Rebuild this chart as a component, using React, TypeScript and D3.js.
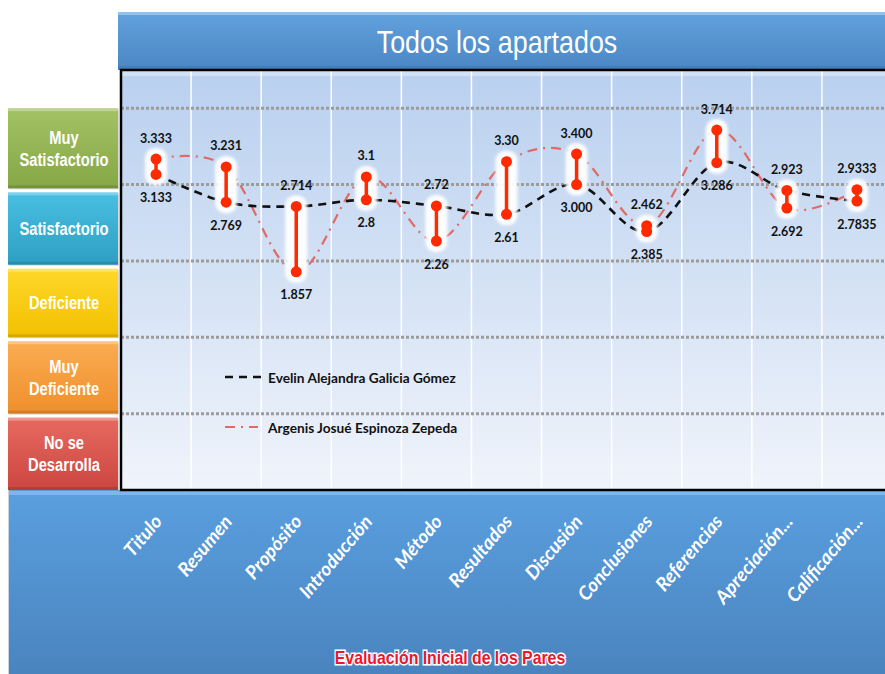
import * as d3 from "d3";

const categories = [
  "Titulo",
  "Resumen",
  "Propósito",
  "Introducción",
  "Método",
  "Resultados",
  "Discusión",
  "Conclusiones",
  "Referencias",
  "Apreciación...",
  "Calificación...",
];
const evelin = [3.133, 2.769, 2.714, 2.8, 2.72, 2.61, 3.0, 2.385, 3.286, 2.923, 2.7835];
const evelinLabels = ["3.133", "2.769", "2.714", "2.8", "2.72", "2.61", "3.000", "2.385", "3.286", "2.923", "2.7835"];
const argenis = [3.333, 3.231, 1.857, 3.1, 2.26, 3.3, 3.4, 2.462, 3.714, 2.692, 2.9333];
const argenisLabels = ["3.333", "3.231", "1.857", "3.1", "2.26", "3.30", "3.400", "2.462", "3.714", "2.692", "2.9333"];
const gridValues = [0, 1, 2, 3, 4];
const levels = [
  ["Muy", "Satisfactorio"],
  ["Satisfactorio"],
  ["Deficiente"],
  ["Muy", "Deficiente"],
  ["No se", "Desarrolla"],
];
const seriesNames = ["Evelin Alejandra Galicia Gómez", "Argenis Josué Espinoza Zepeda"];

// layout
const W = 885;
const H = 674;
const plot = { left: 121, right: 892, top: 70, bottom: 490 };
const levelEdges = [4, 2.95, 1.95, 1.0, 0.0, -1.0];
const levelColors = [
  ["#a3c264", "#86a746"],
  ["#48bfe2", "#2e9fc2"],
  ["#ffd82a", "#f2c000"],
  ["#fbac52", "#ef8f2c"],
  ["#e66a60", "#cc4640"],
];

const x = d3.scaleBand().domain(categories).range([plot.left, plot.right]);
const y = d3.scaleLinear().domain([-1, 4.5]).range([plot.bottom, plot.top]);
const cx = (c: string) => x(c)! + x.bandwidth() / 2;

const line = d3
  .line<number>()
  .x((_, i) => cx(categories[i]))
  .y((d) => y(d))
  .curve(d3.curveCardinal.tension(0));

const arial = "'Liberation Sans', Arial, sans-serif";
const calibri = "Lato, 'Open Sans', sans-serif";

// narrow text: Liberation Sans squeezed horizontally
const Narrow = ({ x: tx, y: ty, sx, children, ...rest }: any) => (
  <g transform={`translate(${tx},${ty}) scale(${sx},1)`}>
    <text x={0} y={0} fontFamily={arial} textAnchor="middle" dominantBaseline="central" {...rest}>
      {children}
    </text>
  </g>
);

export default function App() {
  return (
    <svg
      width={W}
      height={H}
      style={{ position: "absolute", left: 0, top: 0, background: "white" }}
    >
      <defs>
        <linearGradient id="plotGrad" x1="0" y1="0" x2="0" y2="1">
          <stop offset="0" stopColor="#b9d0ef" />
          <stop offset="1" stopColor="#f0f4fb" />
        </linearGradient>
        <linearGradient id="titleGrad" x1="0" y1="0" x2="0" y2="1">
          <stop offset="0" stopColor="#62a2de" />
          <stop offset="1" stopColor="#4a86c3" />
        </linearGradient>
        <linearGradient id="bottomGrad" x1="0" y1="0" x2="0" y2="1">
          <stop offset="0" stopColor="#5a9fdf" />
          <stop offset="1" stopColor="#4a84bf" />
        </linearGradient>
        {levelColors.map((c, i) => (
          <linearGradient key={i} id={`lvl${i}`} x1="0" y1="0" x2="0" y2="1">
            <stop offset="0" stopColor={c[0]} />
            <stop offset="1" stopColor={c[1]} />
          </linearGradient>
        ))}
        <filter id="halo" x="-50%" y="-50%" width="200%" height="200%">
          <feGaussianBlur stdDeviation="1.5" />
        </filter>
      </defs>

      {/* title band */}
      <rect x={118} y={12} width={780} height={58} fill="url(#titleGrad)" />
      <rect x={118} y={12} width={780} height={3} fill="#8fc2ef" />
      <rect x={118} y={66} width={780} height={4} fill="#3f78b2" opacity={0.6} />
      <Narrow x={497} y={42} sx={0.84} fill="white" fontSize={32}>
        Todos los apartados
      </Narrow>

      {/* bottom band */}
      <rect x={8} y={490} width={880} height={184} fill="url(#bottomGrad)" />
      <rect x={8} y={490} width={880} height={5} fill="#7ab8ee" />
      <line x1={8.5} x2={8.5} y1={490} y2={674} stroke="#c8d4e0" />

      {/* level boxes */}
      {levels.map((lines, i) => {
        const top = y(levelEdges[i]) + (i === 0 ? 0 : 4);
        const bottom = y(levelEdges[i + 1]);
        const mid = (top + bottom) / 2;
        return (
          <g key={i}>
            <rect x={9} y={top + 1} width={110} height={bottom - top} fill="#000" opacity={0.15} />
            <rect x={8} y={top} width={110} height={bottom - top} fill={`url(#lvl${i})`} />
            <rect x={8} y={top} width={110} height={3} fill="white" opacity={0.3} />
            <rect x={8} y={bottom - 3} width={110} height={3} fill="black" opacity={0.12} />
            {lines.map((t, j) => (
              <Narrow
                key={j}
                x={64}
                y={mid + (j - (lines.length - 1) / 2) * 22}
                sx={0.84}
                fill="white"
                fontWeight="bold"
                fontSize={17.5}
              >
                {t}
              </Narrow>
            ))}
          </g>
        );
      })}

      {/* plot area */}
      <rect
        x={plot.left}
        y={plot.top}
        width={plot.right - plot.left}
        height={plot.bottom - plot.top}
        fill="url(#plotGrad)"
      />
      <rect x={plot.left} y={plot.top + 1} width={plot.right - plot.left} height={5} fill="white" opacity={0.35} />
      {categories.slice(1).map((c) => (
        <line
          key={c}
          x1={x(c)}
          x2={x(c)}
          y1={plot.top}
          y2={plot.bottom}
          stroke="white"
          strokeWidth={1.5}
        />
      ))}
      {gridValues.map((v) => (
        <line
          key={v}
          x1={plot.left}
          x2={plot.right}
          y1={y(v)}
          y2={y(v)}
          stroke="#9c9c9c"
          strokeWidth={3}
          strokeDasharray="3,2"
        />
      ))}
      <rect
        x={plot.left}
        y={plot.top}
        width={plot.right - plot.left}
        height={plot.bottom - plot.top}
        fill="none"
        stroke="black"
        strokeWidth={2.5}
      />

      {/* series lines */}
      <path
        d={line(argenis)!}
        fill="none"
        stroke="#e06a66"
        strokeWidth={2.2}
        strokeDasharray="10,6,2,6"
      />
      <path
        d={line(evelin)!}
        fill="none"
        stroke="#111"
        strokeWidth={2.6}
        strokeDasharray="8,6"
      />

      {/* high-low markers */}
      {categories.map((c, i) => {
        const top = y(Math.max(evelin[i], argenis[i]));
        const bot = y(Math.min(evelin[i], argenis[i]));
        return (
          <rect
            key={c}
            x={cx(c) - 11}
            y={top - 11}
            width={22}
            height={bot - top + 22}
            rx={10}
            fill="white"
            opacity={0.95}
            filter="url(#halo)"
          />
        );
      })}
      {categories.map((c, i) => {
        const hi = Math.max(evelin[i], argenis[i]);
        const lo = Math.min(evelin[i], argenis[i]);
        return (
          <g key={c}>
            <line x1={cx(c)} x2={cx(c)} y1={y(hi)} y2={y(lo)} stroke="#ff2a00" strokeWidth={3.5} />
            <circle cx={cx(c)} cy={y(evelin[i])} r={5.5} fill="#ff2a00" />
            <circle cx={cx(c)} cy={y(argenis[i])} r={5.5} fill="#ff2a00" />
          </g>
        );
      })}

      {/* value labels */}
      {categories.map((c, i) => {
        const eUp = evelin[i] >= argenis[i];
        const hiLabel = eUp ? evelinLabels[i] : argenisLabels[i];
        const loLabel = eUp ? argenisLabels[i] : evelinLabels[i];
        const hi = Math.max(evelin[i], argenis[i]);
        const lo = Math.min(evelin[i], argenis[i]);
        return (
          <g
            key={c}
            fontFamily={calibri}
            fontWeight="bold"
            fontSize={12.5}
            fill="#111"
            textAnchor="middle"
            dominantBaseline="central"
          >
            <text x={cx(c)} y={y(hi) - 21}>{hiLabel}</text>
            <text x={cx(c)} y={y(lo) + 23}>{loLabel}</text>
          </g>
        );
      })}

      {/* legend */}
      <line x1={225} x2={263} y1={377} y2={377} stroke="#111" strokeWidth={2.6} strokeDasharray="8,6" />
      <line x1={225} x2={258} y1={427} y2={427} stroke="#e06a66" strokeWidth={2.2} strokeDasharray="10,6,2,6" />
      {seriesNames.map((n, i) => (
        <text
          key={n}
          x={268}
          y={377 + i * 50}
          fontFamily={calibri}
          fontWeight="bold"
          fontSize={13.7}
          fill="#111"
          dominantBaseline="central"
        >
          {n}
        </text>
      ))}

      {/* x axis labels */}
      {categories.map((c) => (
        <text
          key={c}
          transform={`translate(${cx(c) + 7},522) rotate(-50)`}
          fill="white"
          fontFamily={calibri}
          fontWeight="bold"
          fontStyle="italic"
          fontSize={19}
          textAnchor="end"
        >
          {c}
        </text>
      ))}

      <Narrow
        x={450}
        y={658}
        sx={0.88}
        fill="#e8192c"
        stroke="white"
        strokeWidth={3}
        paintOrder="stroke"
        fontWeight="bold"
        fontSize={18}
      >
        Evaluación Inicial de los Pares
      </Narrow>
    </svg>
  );
}
